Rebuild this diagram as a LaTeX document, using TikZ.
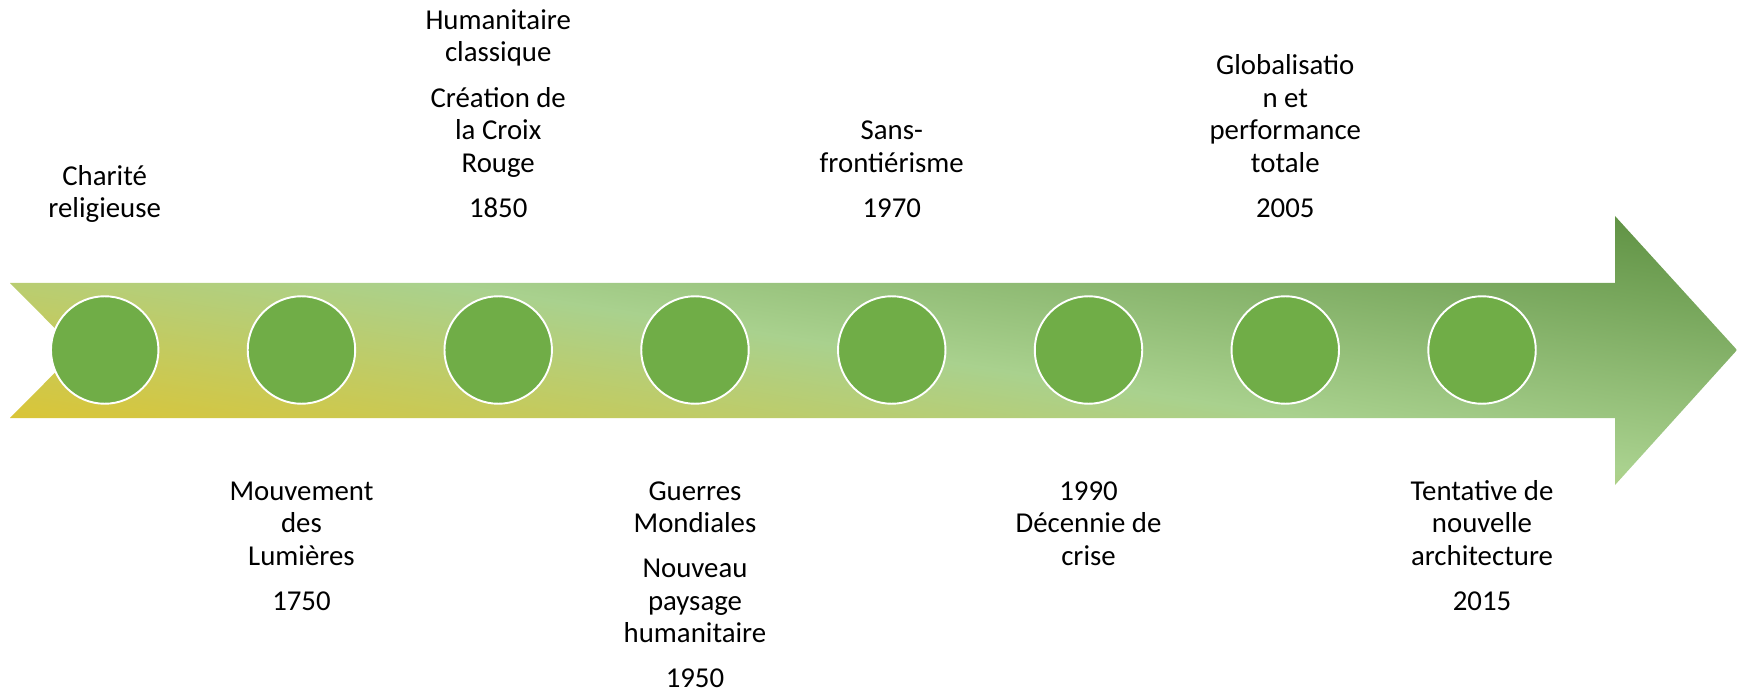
\documentclass[tikz,border=0pt]{standalone}
\usepackage{fontspec}
\setmainfont{Carlito}
\usetikzlibrary{positioning}

\definecolor{tlyellow}{HTML}{EAC11A}
\definecolor{tllight}{HTML}{A9D18E}
\definecolor{tldark}{HTML}{5B8E3F}
\definecolor{dotgreen}{HTML}{70AD47}

\begin{document}
\begin{tikzpicture}[x=0.02cm,y=-0.02cm,
  dot/.style={circle,fill=dotgreen,draw=white,line width=1.1pt,minimum size=2.15cm,inner sep=0pt},
  era/.style={align=center,inner sep=0pt,font=\fontsize{16.4}{18.5}\selectfont},
  up/.style={era,above=1.35cm of #1},
  down/.style={era,below=1.45cm of #1}]
  \useasboundingbox (0,0) rectangle (1737,692);
  % arrow, gradient running along the diagonal of its box
  \begin{scope}
    \clip (10,283) -- (1615,283) -- (1615,216) -- (1737,350) -- (1615,485)
      -- (1615,418) -- (10,418) -- (77,350.5) -- cycle;
    \shade[transform canvas={shift={(0.2cm,-9.7cm)},xscale=34.54,yscale=5.38,rotate=45},
      left color=tlyellow,right color=tldark,middle color=tllight]
      (0cm,-1cm) rectangle (1.4142cm,1cm);
  \end{scope}
  \foreach \i in {1,...,8}
    \node[dot] (c\i) at ({104.7+196.76*(\i-1)},350) {};
  \node[up=c1] (charite) {Charité\\religieuse\strut};
  \node[up=c3] (croix) {Humanitaire\\classique\\[7.4pt]Création de\\la Croix\\Rouge\\[7.4pt]1850\strut};
  \node[up=c5] (sans) {Sans-\\frontiérisme\\[7.4pt]1970\strut};
  \node[up=c7] (global) {Globalisatio\\n et\\performance\\totale\\[7.4pt]2005\strut};
  \node[down=c2] (lumieres) {\strut Mouvement\\des\\Lumières\\[7.4pt]1750};
  \node[down=c4] (guerres) {\strut Guerres\\Mondiales\\[7pt]Nouveau\\paysage\\humanitaire\\[7pt]1950};
  \node[down=c6] (crise) {\strut 1990\\Décennie de\\crise};
  \node[down=c8] (tentative) {\strut Tentative de\\nouvelle\\architecture\\[7.4pt]2015};
\end{tikzpicture}
\end{document}
